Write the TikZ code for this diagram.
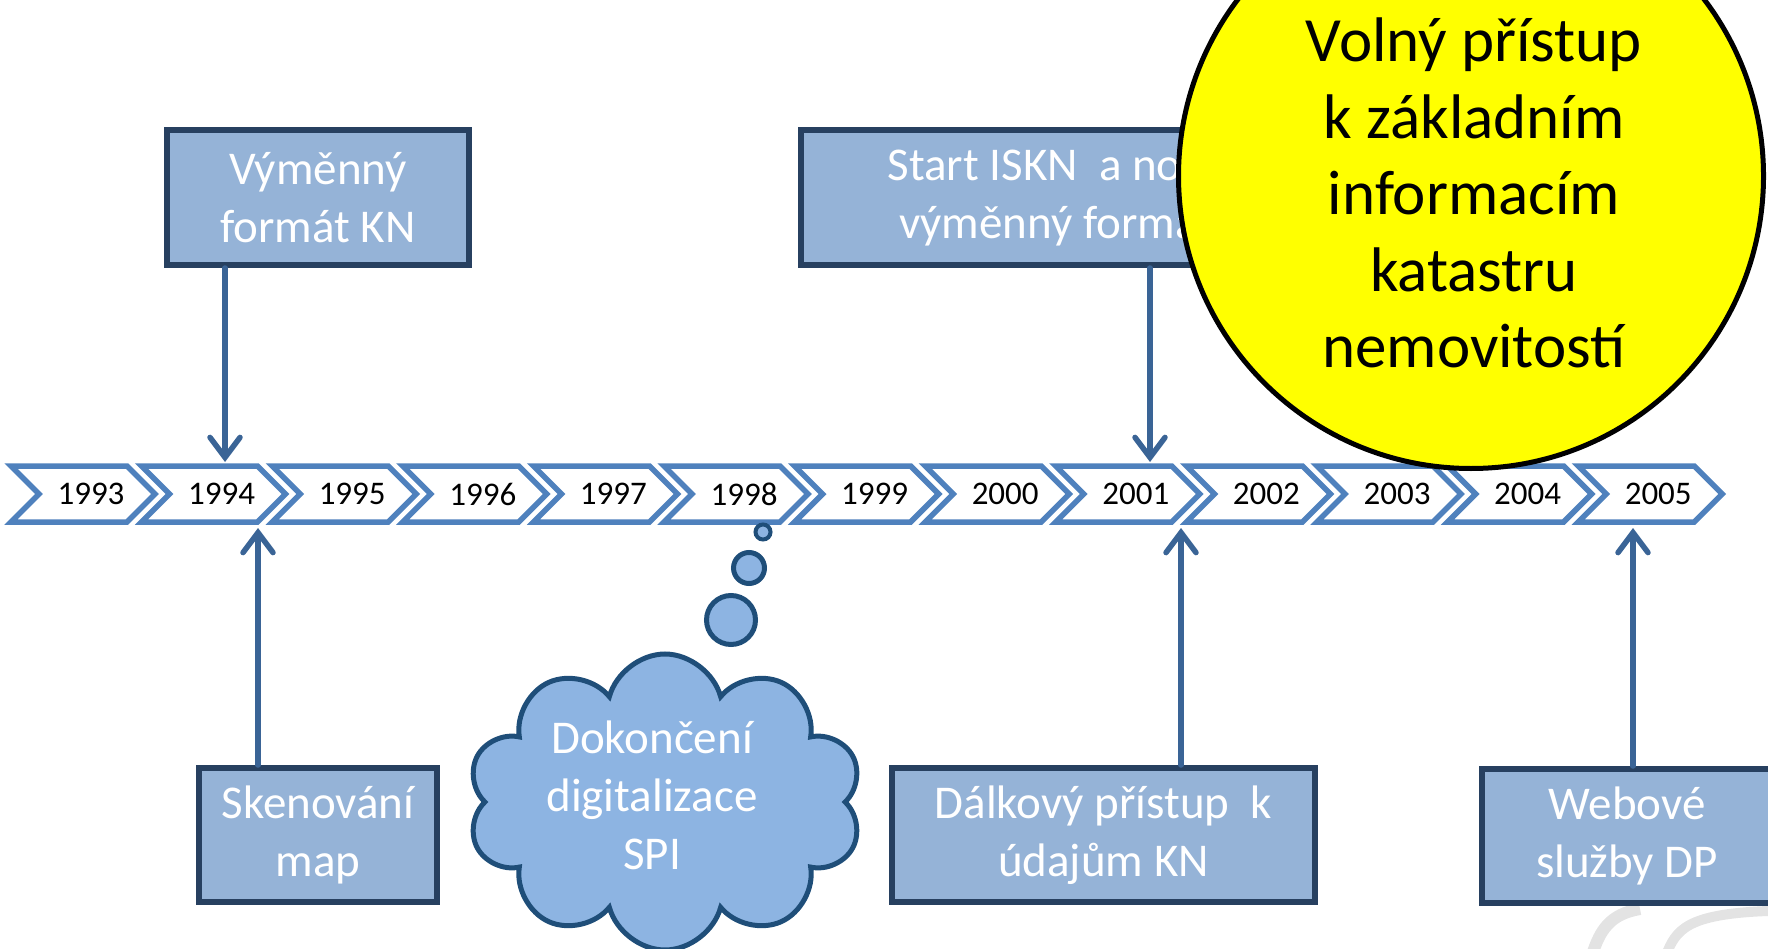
\documentclass[tikz,border=0pt]{standalone}
\usepackage{fontspec}
\setmainfont{Carlito}
\usepackage{xcolor}
\usepackage{tikz}
\usetikzlibrary{shapes,arrows,positioning,calc,arrows.meta}

\definecolor{chevblue}{RGB}{79,129,189}
\definecolor{linkblue}{RGB}{58,100,150}
\definecolor{boxfill}{RGB}{149,179,215}
\definecolor{boxline}{RGB}{39,64,96}
\definecolor{cloudfill}{RGB}{141,180,226}
\definecolor{cloudline}{RGB}{31,78,121}
\definecolor{sunyellow}{RGB}{255,255,0}

\begin{document}
\begin{tikzpicture}[x=1pt,y=-1pt,
    chev/.style={draw=chevblue,line width=5.5pt,fill=white},
    yeartext/.style={font=\fontsize{33}{40}\selectfont,text=black},
    infobox/.style={draw=boxline,fill=boxfill,line width=6pt,text=white,align=center,
        font=\fontsize{47}{58}\selectfont,inner sep=0pt},
    link/.style={draw=linkblue,line width=5.5pt,line cap=round,
        -{Straight Barb[length=20pt,width=30pt,line cap=round]}},
    bubble/.style={circle,draw=cloudline,fill=cloudfill,line width=5pt,inner sep=0pt},
    bigtext/.style={align=center,font=\fontsize{63}{76.5}\selectfont}]
        \useasboundingbox (0,0) rectangle (1768,949);
        % Logo in the corner
        \draw[gray!22,line width=12pt] (1592,955) .. controls (1600,930) and (1610,914) .. (1640,909);
        \draw[gray!22,line width=10pt] (1666,955) .. controls (1676,930) and (1686,914) .. (1768,911);
        % Timeline
        \foreach \yr [count=\i from 0] in {1993,...,2005} {
            \draw[chev] ({11+130.6*\i},466) -- ++(116,0) -- ++(28,28) -- ++(-28,28)
                -- ++(-116,0) -- ++(28,-28) -- cycle;
            \node[yeartext] (y\yr) at ({91+130.6*\i},494) {\yr};
        }
        \coordinate (t1994) at (225,462);
        \coordinate (b1994) at (258,528);
        \coordinate (t2001) at (1150,462);
        \coordinate (b2001) at (1181,528);
        \coordinate (b2005) at (1633,528);
        % Boxes
        \node[infobox,minimum width=302pt,minimum height=135pt] (fmt) at (318,197.5) {Výměnný\\formát KN};
        \node[infobox,minimum width=510pt,minimum height=135pt] (iskn) at (1056,197.5) {Start ISKN\ \ a nový\\výměnný formát};
        \node[infobox,minimum width=238pt,minimum height=134pt] (scan) at (318,835) {Skenování\\map};
        \node[infobox,minimum width=423pt,minimum height=134pt] (dalk) at (1103.5,835) {Dálkový přístup\ \ k\\údajům KN};
        \node[infobox,minimum width=290pt,minimum height=134pt] (web) at (1627,836) {Webové\\služby DP};
        \draw[link] (fmt.south -| t1994) -- (t1994);
        \draw[link] (iskn.south -| t2001) -- (t2001);
        \draw[link] (scan.north -| b1994) -- (b1994);
        \draw[link] (dalk.north -| b2001) -- (b2001);
        \draw[link] (web.north -| b2005) -- (b2005);
        % Thought cloud
        \node[cloud,cloud puffs=10,aspect=1.35,draw=cloudline,fill=cloudfill,line width=5pt,
            minimum width=395pt,minimum height=296pt] (cloud) at (665,802) {};
        \node[infobox,draw=none,fill=none] (spi) at (652,795) {Dokončení\\digitalizace\\SPI};
        \node[bubble,minimum size=15pt,line width=4pt] (bub1) at (763,532) {};
        \node[bubble,minimum size=31pt] (bub2) at (749,568) {};
        \node[bubble,minimum size=49pt] (bub3) at (731,620) {};
        % Free access
        \node[circle,draw=black,fill=sunyellow,line width=5pt,minimum size=585pt] (free) at (1471,176) {};
        \node[bigtext] (freetext) at (1474,193) {Volný přístup\\k základním\\informacím\\katastru\\nemovitostí};
\end{tikzpicture}
\end{document}
